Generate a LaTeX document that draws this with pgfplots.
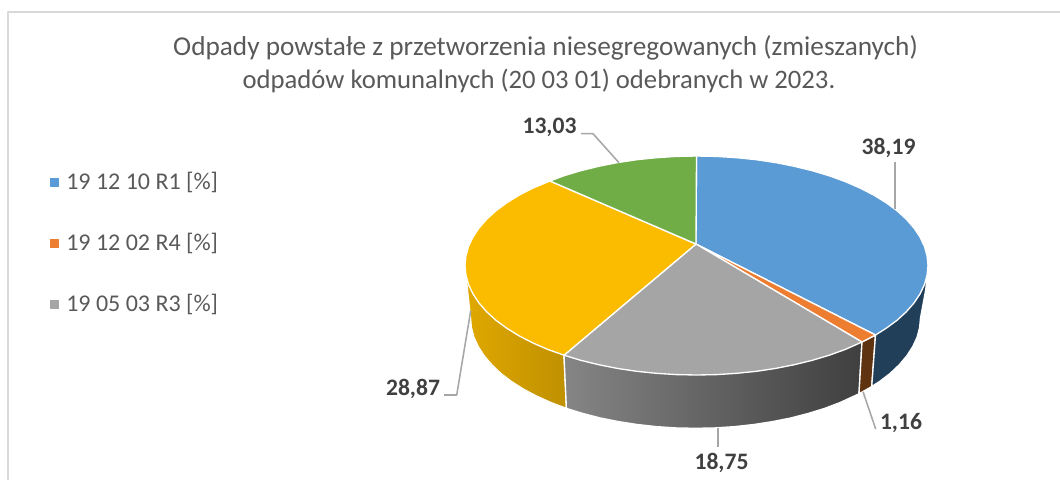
\documentclass[border=0pt]{standalone}
\usepackage{fontspec}
\setmainfont{Carlito}
\usepackage{pgfplots}
\pgfplotsset{compat=1.18}
\definecolor{cBlue}{HTML}{5B9BD5}
\definecolor{cOrange}{HTML}{ED7D31}
\definecolor{cGrey}{HTML}{A5A5A5}
\definecolor{cYellow}{HTML}{FBBC00}
\definecolor{cGreen}{HTML}{70AD47}
\definecolor{wBlue}{HTML}{223F59}
\definecolor{wBrown}{HTML}{5F3210}
\definecolor{wGreyL}{HTML}{858585}
\definecolor{wGreyR}{HTML}{3F3F3F}
\definecolor{wYellowL}{HTML}{E0A800}
\definecolor{wYellowR}{HTML}{BF9000}
\definecolor{leader}{HTML}{A6A6A6}
\definecolor{frameline}{HTML}{D9D9D9}
\definecolor{txt}{HTML}{595959}
\definecolor{lbl}{HTML}{404040}
\begin{document}
\begin{tikzpicture}
\begin{axis}[
    scale only axis,
    width=795pt, height=360pt,
    xmin=0, xmax=1060, ymin=0, ymax=480,
    y dir=reverse,
    hide axis,
    every axis plot/.append style={line join=round},
    slice/.style={draw=white, line width=1pt},
    lead/.style={draw=leader, line width=1.15pt},
]
\path (axis cs:0,0) rectangle (axis cs:1060,480);

% frame
\addplot[draw=frameline, line width=1pt] coordinates {(8,480) (8,12) (1060,12)};

% side walls
\addplot[slice, left color=wYellowL, right color=wYellowR] coordinates {
(564,340) (564,355.2) (566.4,408.4) (550.9,402.5) (536.4,396) (523.1,388.9) (511.2,381.3)
(500.6,373.2) (491.6,364.6) (484.1,355.7) (478.2,346.5) (473.9,337.2) (471.4,327.6)
(470.5,318) (467.5,290) (465,266) (500,280)
} -- cycle;
\addplot[slice, left color=wGreyL, middle color=wGreyR!60!wGreyL, right color=wGreyR] coordinates {
(564,340) (564,355.2) (566.4,408.4) (583,413.5) (600.4,418) (618.5,421.6) (637.3,424.5)
(656.4,426.6) (675.9,427.9) (695.5,428.3) (715.1,427.9) (734.6,426.6) (753.7,424.5)
(772.5,421.6) (790.6,418) (808,413.5) (824.6,408.4) (840.1,402.5) (859,393.8) (862,342)
(862,320)
} -- cycle;
\addplot[slice, fill=wBrown] coordinates {
(875.5,335) (862,342) (859,393.8) (871.7,386.6)
} -- cycle;
\addplot[slice, fill=wBlue] coordinates {
(875.5,335) (871.7,386.6) (879.8,381.3) (890.4,373.2) (899.4,364.6) (906.9,355.7)
(912.8,346.5) (917.1,337.2) (919.6,327.6) (920.5,318) (925.7,290) (928,268) (900,290)
} -- cycle;

% top face
\addplot[slice, fill=cBlue] coordinates {
(696,244) (696.5,156) (716.7,156.4) (736.7,157.7) (756.4,159.7) (775.7,162.6) (794.3,166.3)
(812.3,170.7) (829.3,175.8) (845.3,181.6) (860.2,188.1) (873.8,195.1) (886.1,202.7)
(897,210.7) (906.3,219.2) (914,228) (920.1,237.2) (924.5,246.5) (927.1,256) (928,265.5)
(927.1,275) (924.5,284.5) (920.1,293.8) (914,303) (906.3,311.8) (897,320.3) (886.1,328.3)
(875.5,335)
} -- cycle;
\addplot[slice, fill=cOrange] coordinates {
(696,244) (875.5,335) (862,342)
} -- cycle;
\addplot[slice, fill=cGrey] coordinates {
(696,244) (862,342) (845.3,349.4) (829.3,355.2) (812.3,360.3) (794.3,364.7) (775.7,368.4)
(756.4,371.3) (736.7,373.3) (716.7,374.6) (696.5,375) (676.3,374.6) (656.3,373.3)
(636.6,371.3) (617.3,368.4) (598.7,364.7) (580.7,360.3) (564,355.2)
} -- cycle;
\addplot[slice, fill=cYellow] coordinates {
(696,244) (564,355.2) (547.7,349.4) (532.8,342.9) (519.2,335.9) (506.9,328.3) (496,320.3)
(486.7,311.8) (479,303) (472.9,293.8) (468.5,284.5) (465.9,275) (465,265.5) (465.9,256)
(468.5,246.5) (472.9,237.2) (479,228) (486.7,219.2) (496,210.7) (506.9,202.7) (519.2,195.1)
(532.8,188.1) (550,181)
} -- cycle;
\addplot[slice, fill=cGreen] coordinates {
(696,244) (550,181) (563.7,175.8) (580.7,170.7) (598.7,166.3) (617.3,162.6) (636.6,159.7)
(656.3,157.7) (676.3,156.4) (696.5,156)
} -- cycle;

% leader lines
\addplot[lead] coordinates {(581,133.7) (593,133.7) (619,162.7)};
\addplot[lead] coordinates {(895,161.7) (895,209)};
\addplot[lead] coordinates {(444,395) (456.7,395) (470.7,310.7)};
\addplot[lead] coordinates {(863,391.7) (875.7,429)};
\addplot[lead] coordinates {(718,428) (718,446.7)};

% data labels
\node[text=lbl, font=\fontsize{17.7}{20}\selectfont\bfseries] at (axis cs:549.5,127) {13,03};
\node[text=lbl, font=\fontsize{17.7}{20}\selectfont\bfseries] at (axis cs:888.5,148) {38,19};
\node[text=lbl, font=\fontsize{17.7}{20}\selectfont\bfseries] at (axis cs:413,389) {28,87};
\node[text=lbl, font=\fontsize{17.7}{20}\selectfont\bfseries] at (axis cs:901,423) {1,16};
\node[text=lbl, font=\fontsize{17.7}{20}\selectfont\bfseries] at (axis cs:721.5,463) {18,75};

% legend
\addplot[only marks, mark=square*, mark size=3pt, mark options={draw=cBlue, fill=cBlue}] coordinates {(54,182)};
\addplot[only marks, mark=square*, mark size=3pt, mark options={draw=cOrange, fill=cOrange}] coordinates {(54,243)};
\addplot[only marks, mark=square*, mark size=3pt, mark options={draw=cGrey, fill=cGrey}] coordinates {(54,304)};
\node[anchor=west, inner sep=0pt, text=txt, font=\fontsize{18}{22}\selectfont] at (axis cs:66,182) {19 12 10 R1 [\%]};
\node[anchor=west, inner sep=0pt, text=txt, font=\fontsize{18}{22}\selectfont] at (axis cs:66,243) {19 12 02 R4 [\%]};
\node[anchor=west, inner sep=0pt, text=txt, font=\fontsize{18}{22}\selectfont] at (axis cs:66,304) {19 05 03 R3 [\%]};

% title
\node[text=txt, font=\fontsize{20.45}{24}\selectfont] at (axis cs:545.5,48) {Odpady powstałe z przetworzenia niesegregowanych (zmieszanych)};
\node[text=txt, font=\fontsize{20}{24}\selectfont] at (axis cs:539,81) {odpadów komunalnych (20 03 01) odebranych w 2023.};
\end{axis}
\end{tikzpicture}
\end{document}
